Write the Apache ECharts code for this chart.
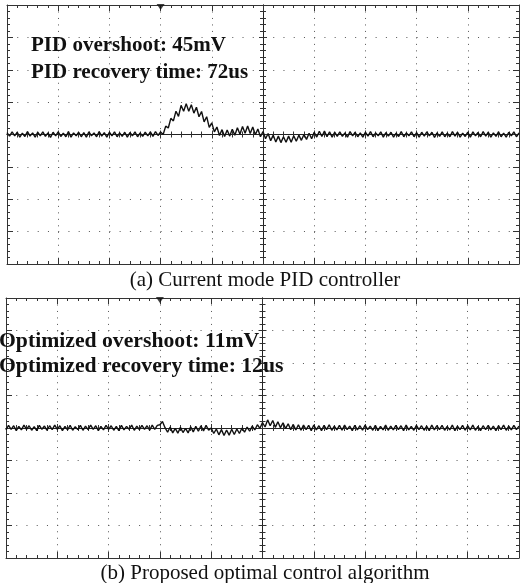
<!DOCTYPE html>
<html>
<head>
<meta charset="utf-8">
<script src="https://cdn.jsdelivr.net/npm/echarts@6.0.0/dist/echarts.min.js"></script>
<style>
  html, body { margin: 0; padding: 0; background: #fff; }
  #chart { width: 520px; height: 583px; }
</style>
</head>
<body>
<div id="chart"></div>
<script>
// screen is 10 x 8 divisions, time in div from centre, volts in div
const sampleStart = -5;
const sampleStep = 0.05;
const triggerTime = [-2];

// (a) current mode PID
const tracePid = [
  0.06,-0.05,0.08,-0.04,0.07,-0.08,0.04,-0.06,0.09,-0.05,
  0.05,-0.08,0.07,-0.04,0.08,-0.06,0.05,-0.09,0.07,-0.04,
  0.08,-0.06,0.04,-0.07,0.09,-0.08,0.05,-0.04,0.07,-0.07,
  0.06,-0.08,0.08,-0.04,0.05,-0.07,0.09,-0.05,0.06,-0.08,
  0.07,-0.04,0.08,-0.07,0.05,-0.06,0.07,-0.08,0.06,-0.04,
  0.08,-0.07,0.05,-0.06,0.07,-0.04,0.08,-0.06,0.09,-0.03,
  0.08,0.00,0.26,0.20,0.50,0.42,0.72,0.56,0.90,0.72,
  0.95,0.72,0.92,0.66,0.84,0.55,0.71,0.39,0.55,0.22,
  0.36,0.08,0.23,-0.03,0.15,-0.06,0.14,-0.05,0.16,-0.02,
  0.21,0.01,0.25,0.04,0.26,0.03,0.23,-0.01,0.17,-0.07,
  0.09,-0.13,0.03,-0.19,-0.02,-0.23,-0.05,-0.25,-0.07,-0.24,
  -0.05,-0.24,-0.04,-0.21,-0.02,-0.18,0.00,-0.15,0.04,-0.13,
  0.07,-0.08,0.10,-0.06,0.11,-0.07,0.08,-0.08,0.07,-0.06,
  0.08,-0.06,0.05,-0.08,0.09,-0.04,0.07,-0.07,0.05,-0.08,
  0.07,-0.05,0.09,-0.07,0.05,-0.04,0.08,-0.08,0.06,-0.05,
  0.07,-0.08,0.04,-0.06,0.09,-0.07,0.05,-0.04,0.08,-0.07,
  0.06,-0.08,0.07,-0.05,0.08,-0.04,0.07,-0.09,0.05,-0.06,
  0.08,-0.07,0.04,-0.07,0.09,-0.05,0.07,-0.08,0.04,-0.06,
  0.07,-0.08,0.08,-0.04,0.06,-0.07,0.09,-0.05,0.07,-0.08,
  0.05,-0.06,0.08,-0.07,0.04,-0.08,0.07,-0.04,0.08,-0.07,
  0.05
];

// (b) proposed optimal control
const traceOpt = [
  -0.06,0.08,-0.04,0.07,-0.08,0.05,-0.06,0.09,-0.04,0.07,
  -0.07,0.04,-0.08,0.08,-0.04,0.06,-0.07,0.07,-0.05,0.09,
  -0.04,0.07,-0.08,0.05,-0.06,0.08,-0.07,0.04,-0.05,0.08,
  -0.07,0.06,-0.05,0.09,-0.04,0.07,-0.08,0.05,-0.06,0.08,
  -0.04,0.07,-0.07,0.05,-0.08,0.08,-0.06,0.05,-0.04,0.09,
  -0.07,0.06,-0.05,0.08,-0.04,0.07,-0.07,0.09,-0.04,0.08,
  0.10,0.20,0.01,-0.13,0.03,-0.15,-0.01,-0.16,0.02,-0.14,
  -0.01,-0.15,0.04,-0.12,0.05,-0.10,0.07,-0.09,0.08,-0.07,
  0.00,-0.17,-0.03,-0.21,-0.05,-0.23,-0.06,-0.22,-0.04,-0.20,
  -0.03,-0.17,0.00,-0.13,0.03,-0.10,0.06,-0.06,0.10,-0.01,
  0.17,0.03,0.25,0.07,0.23,0.02,0.19,0.01,0.16,-0.02,
  0.13,-0.05,0.11,-0.06,0.10,-0.07,0.09,-0.05,0.08,-0.08,
  0.09,-0.06,0.07,-0.08,0.08,-0.05,0.10,-0.07,0.06,-0.06,
  0.08,-0.07,0.09,-0.05,0.06,-0.08,0.08,-0.06,0.07,-0.07,
  0.09,-0.05,0.06,-0.07,0.08,-0.08,0.05,-0.06,0.09,-0.07,
  0.06,-0.06,0.08,-0.05,0.07,-0.08,0.09,-0.06,0.05,-0.07,
  0.08,-0.05,0.07,-0.07,0.06,-0.08,0.09,-0.06,0.07,-0.05,
  0.08,-0.07,0.05,-0.06,0.09,-0.08,0.06,-0.05,0.08,-0.07,
  0.07,-0.06,0.09,-0.07,0.05,-0.08,0.07,-0.05,0.08,-0.06,
  0.06,-0.08,0.07,-0.05,0.09,-0.07,0.06,-0.06,0.08,-0.05,
  0.06
];

const notesPid = ["PID overshoot: 45mV", "PID recovery time: 72us"];
const notesOpt = ["Optimized overshoot: 11mV", "Optimized recovery time: 12us"];
const captions = ["(a) Current mode PID controller", "(b) Proposed optimal control algorithm"];

const lineColor = "#333";
const dotColor = "#555";
const serif = '"Liberation Serif", "Times New Roman", serif';

function toPoints(arr) {
  return arr.map((v, i) => [+(sampleStart + i * sampleStep).toFixed(2), v]);
}

// 4 x axes + 4 y axes per panel: border bottom/top (left/right) and the centre cross
function panelAxes(gridIndex, base) {
  const xCommon = {
    gridIndex,
    type: "value",
    min: -5,
    max: 5,
    interval: 1,
    axisLabel: { show: false },
    splitLine: { show: false },
    minorTick: { show: true, splitNumber: 5, length: 3, lineStyle: { color: lineColor } },
  };
  const yCommon = {
    gridIndex,
    type: "value",
    min: -4,
    max: 4,
    interval: 1,
    axisLabel: { show: false },
    splitLine: { show: false },
    minorTick: { show: true, splitNumber: 5, length: 3, lineStyle: { color: lineColor } },
  };
  const x = [
    {
      ...xCommon,
      position: "bottom",
      axisLine: { onZero: false, lineStyle: { color: lineColor } },
      axisTick: { inside: true, length: 6, lineStyle: { color: lineColor } },
      splitLine: { show: true, lineStyle: { color: dotColor, type: [1, 5.48] } },
    },
    {
      ...xCommon,
      position: "top",
      axisLine: { onZero: false, lineStyle: { color: lineColor } },
      axisTick: { inside: true, length: 6, lineStyle: { color: lineColor } },
    },
    {
      ...xCommon,
      position: "bottom",
      axisLine: { onZero: true, onZeroAxisIndex: base, lineStyle: { color: "#222" } },
      axisTick: { inside: false, length: 4, lineStyle: { color: lineColor } },
    },
    {
      ...xCommon,
      position: "top",
      axisLine: { onZero: true, onZeroAxisIndex: base, lineStyle: { color: "#222" } },
      axisTick: { inside: false, length: 4, lineStyle: { color: lineColor } },
    },
  ];
  const y = [
    {
      ...yCommon,
      position: "left",
      axisLine: { onZero: false, lineStyle: { color: lineColor } },
      axisTick: { inside: true, length: 6, lineStyle: { color: lineColor } },
      splitLine: { show: true, lineStyle: { color: dotColor, type: [1, 9.24] } },
    },
    {
      ...yCommon,
      position: "right",
      axisLine: { onZero: false, lineStyle: { color: lineColor } },
      axisTick: { inside: true, length: 6, lineStyle: { color: lineColor } },
    },
    {
      ...yCommon,
      position: "left",
      axisLine: { onZero: true, onZeroAxisIndex: base, lineStyle: { color: "#222" } },
      axisTick: { inside: false, length: 4, lineStyle: { color: lineColor } },
    },
    {
      ...yCommon,
      position: "right",
      axisLine: { onZero: true, onZeroAxisIndex: base, lineStyle: { color: "#222" } },
      axisTick: { inside: false, length: 4, lineStyle: { color: lineColor } },
    },
  ];
  return { x, y };
}

function traceSeries(data, base) {
  return {
    type: "line",
    xAxisIndex: base,
    yAxisIndex: base,
    data: toPoints(data),
    symbol: "none",
    lineStyle: { color: "#111", width: 1.4 },
    z: 5,
  };
}

function triggerSeries(base) {
  return {
    type: "scatter",
    xAxisIndex: base,
    yAxisIndex: base,
    data: triggerTime.map((t) => [t, 4]),
    symbol: "triangle",
    symbolRotate: 180,
    symbolSize: [8, 6],
    symbolOffset: [0, 2],
    itemStyle: { color: "#111" },
    clip: false,
    z: 6,
  };
}

function noteTexts(lines, left, ys, size) {
  return lines.map((t, i) => ({
    type: "text",
    x: left,
    y: ys[i],
    style: {
      text: t,
      font: "bold " + size + "px " + serif,
      fill: "#111",
      align: "left",
      verticalAlign: "middle",
    },
    z: 10,
  }));
}

function captionText(t, y) {
  return {
    type: "text",
    x: 265,
    y,
    style: {
      text: t,
      font: "21px " + serif,
      fill: "#111",
      align: "center",
      verticalAlign: "middle",
    },
  };
}

const panelA = panelAxes(0, 0);
const panelB = panelAxes(1, 4);

const option = {
  animation: false,
  backgroundColor: "#fff",
  grid: [
    { left: 7, top: 5, width: 512, height: 259 },
    { left: 6, top: 298, width: 513, height: 260 },
  ],
  xAxis: [...panelA.x, ...panelB.x],
  yAxis: [...panelA.y, ...panelB.y],
  series: [
    traceSeries(tracePid, 0),
    triggerSeries(0),
    traceSeries(traceOpt, 4),
    triggerSeries(4),
  ],
  graphic: [
    ...noteTexts(notesPid, 31, [46, 73], 21),
    ...noteTexts(notesOpt, -1, [341, 366], 21.7),
    captionText(captions[0], 280),
    captionText(captions[1], 573),
  ],
};

const myChart = echarts.init(document.getElementById("chart"));
myChart.setOption(option);
</script>
</body>
</html>
